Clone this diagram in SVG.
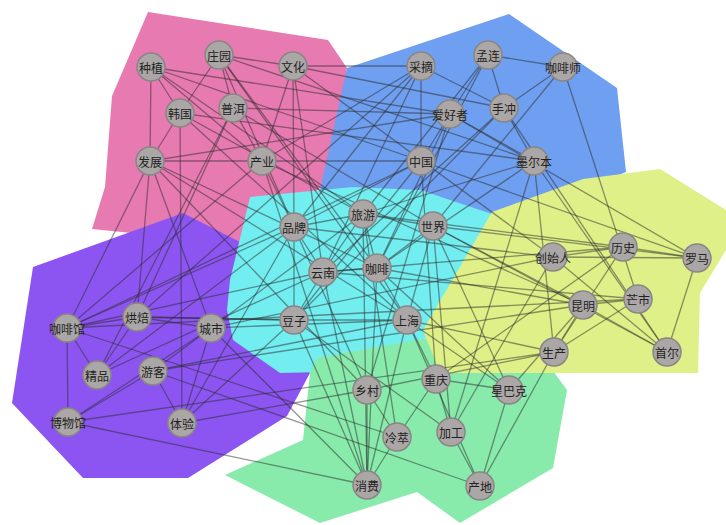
<svg xmlns="http://www.w3.org/2000/svg" width="726" height="525" viewBox="0 0 726 525">
<style>
.hull{stroke:none}
#edges line{stroke:#2b2b2b;stroke-opacity:0.5;stroke-width:1.3}
.node circle{fill:#aba7a6;stroke:#8a8684;stroke-width:1.5}
.node text{font-family:"Noto Sans CJK SC","Noto Sans",sans-serif;font-size:12px;fill:#222;text-anchor:middle;dominant-baseline:central}
</style>
<rect width="726" height="525" fill="#ffffff"/>
<g id="hulls">
<polygon class="hull" fill="#e87ab2" points="148,12 328,40 347,68 330,180 250,245 92,229 105,187 112,96"/>
<polygon class="hull" fill="#6f9ff0" points="347,68 509,14 617,88 626,172 560,200 490,215 420,190 320,190"/>
<polygon class="hull" fill="#8c55f2" points="183,213 240,242 262,300 310,373 287,416 188,478 83,478 12,403 33,267"/>
<polygon class="hull" fill="#72edf0" points="250,197 353,187 420,190 495,215 500,250 432,336 320,372 280,373 233,340 227,310 230,280"/>
<polygon class="hull" fill="#89ebab" points="310,373 317,358 433,337 545,360 567,390 553,468 460,523 417,492 320,523 225,475 303,440"/>
<polygon class="hull" fill="#def087" points="492,212 583,179 660,169 726,210 726,250 700,293 698,373 440,373 423,330"/>
</g>
<g id="edges">
<line x1="151" y1="67" x2="150" y2="161"/>
<line x1="151" y1="67" x2="180" y2="113"/>
<line x1="151" y1="67" x2="262" y2="161"/>
<line x1="219" y1="55" x2="293" y2="66"/>
<line x1="219" y1="55" x2="180" y2="113"/>
<line x1="219" y1="55" x2="233" y2="108"/>
<line x1="180" y1="113" x2="150" y2="161"/>
<line x1="150" y1="161" x2="262" y2="161"/>
<line x1="233" y1="108" x2="262" y2="161"/>
<line x1="293" y1="66" x2="262" y2="161"/>
<line x1="151" y1="67" x2="421" y2="161"/>
<line x1="151" y1="67" x2="363" y2="214"/>
<line x1="151" y1="67" x2="450" y2="114"/>
<line x1="150" y1="161" x2="67" y2="328"/>
<line x1="219" y1="55" x2="294" y2="227"/>
<line x1="219" y1="55" x2="377" y2="268"/>
<line x1="219" y1="55" x2="407" y2="320"/>
<line x1="219" y1="55" x2="534" y2="161"/>
<line x1="293" y1="66" x2="421" y2="66"/>
<line x1="293" y1="66" x2="294" y2="227"/>
<line x1="293" y1="66" x2="323" y2="272"/>
<line x1="293" y1="66" x2="553" y2="257"/>
<line x1="293" y1="66" x2="504" y2="108"/>
<line x1="180" y1="113" x2="182" y2="423"/>
<line x1="180" y1="113" x2="534" y2="161"/>
<line x1="180" y1="113" x2="363" y2="214"/>
<line x1="180" y1="113" x2="407" y2="320"/>
<line x1="233" y1="108" x2="137" y2="317"/>
<line x1="233" y1="108" x2="450" y2="114"/>
<line x1="233" y1="108" x2="433" y2="226"/>
<line x1="233" y1="108" x2="97" y2="375"/>
<line x1="150" y1="161" x2="450" y2="114"/>
<line x1="262" y1="161" x2="421" y2="161"/>
<line x1="150" y1="161" x2="377" y2="268"/>
<line x1="150" y1="161" x2="211" y2="328"/>
<line x1="150" y1="161" x2="367" y2="390"/>
<line x1="150" y1="161" x2="137" y2="317"/>
<line x1="150" y1="161" x2="407" y2="320"/>
<line x1="262" y1="161" x2="67" y2="328"/>
<line x1="262" y1="161" x2="294" y2="227"/>
<line x1="262" y1="161" x2="421" y2="66"/>
<line x1="262" y1="161" x2="367" y2="485"/>
<line x1="262" y1="161" x2="583" y2="305"/>
<line x1="421" y1="66" x2="421" y2="161"/>
<line x1="421" y1="66" x2="504" y2="108"/>
<line x1="488" y1="55" x2="563" y2="67"/>
<line x1="488" y1="55" x2="450" y2="114"/>
<line x1="488" y1="55" x2="504" y2="108"/>
<line x1="563" y1="67" x2="504" y2="108"/>
<line x1="450" y1="114" x2="534" y2="161"/>
<line x1="504" y1="108" x2="534" y2="161"/>
<line x1="450" y1="114" x2="421" y2="161"/>
<line x1="421" y1="66" x2="294" y2="227"/>
<line x1="421" y1="66" x2="323" y2="272"/>
<line x1="421" y1="66" x2="137" y2="317"/>
<line x1="488" y1="55" x2="377" y2="268"/>
<line x1="488" y1="55" x2="363" y2="214"/>
<line x1="563" y1="67" x2="638" y2="299"/>
<line x1="563" y1="67" x2="433" y2="226"/>
<line x1="450" y1="114" x2="377" y2="268"/>
<line x1="450" y1="114" x2="367" y2="390"/>
<line x1="450" y1="114" x2="697" y2="258"/>
<line x1="504" y1="108" x2="294" y2="320"/>
<line x1="504" y1="108" x2="667" y2="352"/>
<line x1="504" y1="108" x2="323" y2="272"/>
<line x1="421" y1="161" x2="697" y2="258"/>
<line x1="421" y1="161" x2="294" y2="227"/>
<line x1="421" y1="161" x2="294" y2="320"/>
<line x1="421" y1="161" x2="436" y2="379"/>
<line x1="421" y1="161" x2="67" y2="328"/>
<line x1="534" y1="161" x2="667" y2="352"/>
<line x1="534" y1="161" x2="377" y2="268"/>
<line x1="534" y1="161" x2="554" y2="352"/>
<line x1="534" y1="161" x2="451" y2="432"/>
<line x1="534" y1="161" x2="363" y2="214"/>
<line x1="294" y1="227" x2="363" y2="214"/>
<line x1="294" y1="227" x2="323" y2="272"/>
<line x1="294" y1="227" x2="294" y2="320"/>
<line x1="363" y1="214" x2="377" y2="268"/>
<line x1="363" y1="214" x2="323" y2="272"/>
<line x1="433" y1="226" x2="377" y2="268"/>
<line x1="323" y1="272" x2="377" y2="268"/>
<line x1="323" y1="272" x2="294" y2="320"/>
<line x1="377" y1="268" x2="407" y2="320"/>
<line x1="294" y1="320" x2="407" y2="320"/>
<line x1="363" y1="214" x2="433" y2="226"/>
<line x1="433" y1="226" x2="407" y2="320"/>
<line x1="294" y1="227" x2="67" y2="328"/>
<line x1="294" y1="227" x2="182" y2="423"/>
<line x1="294" y1="227" x2="97" y2="375"/>
<line x1="294" y1="227" x2="553" y2="257"/>
<line x1="363" y1="214" x2="397" y2="437"/>
<line x1="363" y1="214" x2="623" y2="247"/>
<line x1="363" y1="214" x2="367" y2="485"/>
<line x1="433" y1="226" x2="667" y2="352"/>
<line x1="433" y1="226" x2="583" y2="305"/>
<line x1="433" y1="226" x2="451" y2="432"/>
<line x1="323" y1="272" x2="367" y2="485"/>
<line x1="323" y1="272" x2="638" y2="299"/>
<line x1="323" y1="272" x2="67" y2="328"/>
<line x1="377" y1="268" x2="509" y2="390"/>
<line x1="377" y1="268" x2="583" y2="305"/>
<line x1="377" y1="268" x2="367" y2="485"/>
<line x1="294" y1="320" x2="367" y2="485"/>
<line x1="294" y1="320" x2="182" y2="423"/>
<line x1="294" y1="320" x2="137" y2="317"/>
<line x1="294" y1="320" x2="451" y2="432"/>
<line x1="407" y1="320" x2="509" y2="390"/>
<line x1="407" y1="320" x2="367" y2="485"/>
<line x1="407" y1="320" x2="554" y2="352"/>
<line x1="407" y1="320" x2="211" y2="328"/>
<line x1="407" y1="320" x2="436" y2="379"/>
<line x1="553" y1="257" x2="623" y2="247"/>
<line x1="553" y1="257" x2="697" y2="258"/>
<line x1="623" y1="247" x2="697" y2="258"/>
<line x1="697" y1="258" x2="667" y2="352"/>
<line x1="583" y1="305" x2="638" y2="299"/>
<line x1="583" y1="305" x2="667" y2="352"/>
<line x1="583" y1="305" x2="554" y2="352"/>
<line x1="638" y1="299" x2="554" y2="352"/>
<line x1="623" y1="247" x2="554" y2="352"/>
<line x1="553" y1="257" x2="667" y2="352"/>
<line x1="553" y1="257" x2="451" y2="432"/>
<line x1="553" y1="257" x2="211" y2="328"/>
<line x1="623" y1="247" x2="323" y2="272"/>
<line x1="583" y1="305" x2="153" y2="371"/>
<line x1="638" y1="299" x2="67" y2="328"/>
<line x1="554" y1="352" x2="480" y2="486"/>
<line x1="554" y1="352" x2="367" y2="390"/>
<line x1="554" y1="352" x2="68" y2="422"/>
<line x1="697" y1="258" x2="433" y2="226"/>
<line x1="623" y1="247" x2="436" y2="379"/>
<line x1="67" y1="328" x2="137" y2="317"/>
<line x1="67" y1="328" x2="97" y2="375"/>
<line x1="137" y1="317" x2="211" y2="328"/>
<line x1="137" y1="317" x2="97" y2="375"/>
<line x1="211" y1="328" x2="182" y2="423"/>
<line x1="153" y1="371" x2="182" y2="423"/>
<line x1="68" y1="422" x2="153" y2="371"/>
<line x1="68" y1="422" x2="211" y2="328"/>
<line x1="153" y1="371" x2="211" y2="328"/>
<line x1="67" y1="328" x2="68" y2="422"/>
<line x1="137" y1="317" x2="294" y2="320"/>
<line x1="67" y1="328" x2="397" y2="437"/>
<line x1="68" y1="422" x2="367" y2="485"/>
<line x1="153" y1="371" x2="480" y2="486"/>
<line x1="211" y1="328" x2="367" y2="485"/>
<line x1="182" y1="423" x2="367" y2="390"/>
<line x1="97" y1="375" x2="323" y2="272"/>
<line x1="153" y1="371" x2="407" y2="320"/>
<line x1="211" y1="328" x2="363" y2="214"/>
<line x1="367" y1="390" x2="367" y2="485"/>
<line x1="367" y1="390" x2="397" y2="437"/>
<line x1="436" y1="379" x2="397" y2="437"/>
<line x1="436" y1="379" x2="451" y2="432"/>
<line x1="451" y1="432" x2="480" y2="486"/>
<line x1="509" y1="390" x2="480" y2="486"/>
<line x1="436" y1="379" x2="509" y2="390"/>
<line x1="397" y1="437" x2="367" y2="485"/>
<line x1="509" y1="390" x2="433" y2="226"/>
<line x1="583" y1="305" x2="509" y2="390"/>
<line x1="480" y1="486" x2="407" y2="320"/>
<line x1="367" y1="390" x2="294" y2="227"/>
</g>
<g id="nodes">
<g class="node" id="n-zhongzhi"><circle cx="151" cy="67" r="14"/><text x="151" y="67">种植</text></g>
<g class="node" id="n-zhuangyuan"><circle cx="219" cy="55" r="14"/><text x="219" y="55">庄园</text></g>
<g class="node" id="n-wenhua"><circle cx="293" cy="66" r="14"/><text x="293" y="66">文化</text></g>
<g class="node" id="n-hanguo"><circle cx="180" cy="113" r="14"/><text x="180" y="113">韩国</text></g>
<g class="node" id="n-puer"><circle cx="233" cy="108" r="14"/><text x="233" y="108">普洱</text></g>
<g class="node" id="n-fazhan"><circle cx="150" cy="161" r="14"/><text x="150" y="161">发展</text></g>
<g class="node" id="n-chanye"><circle cx="262" cy="161" r="14"/><text x="262" y="161">产业</text></g>
<g class="node" id="n-caizhai"><circle cx="421" cy="66" r="14"/><text x="421" y="66">采摘</text></g>
<g class="node" id="n-menglian"><circle cx="488" cy="55" r="14"/><text x="488" y="55">孟连</text></g>
<g class="node" id="n-kafeishi"><circle cx="563" cy="67" r="14"/><text x="563" y="67">咖啡师</text></g>
<g class="node" id="n-aihaozhe"><circle cx="450" cy="114" r="14"/><text x="450" y="114">爱好者</text></g>
<g class="node" id="n-shouchong"><circle cx="504" cy="108" r="14"/><text x="504" y="108">手冲</text></g>
<g class="node" id="n-zhongguo"><circle cx="421" cy="161" r="14"/><text x="421" y="161">中国</text></g>
<g class="node" id="n-moerben"><circle cx="534" cy="161" r="14"/><text x="534" y="161">墨尔本</text></g>
<g class="node" id="n-pinpai"><circle cx="294" cy="227" r="14"/><text x="294" y="227">品牌</text></g>
<g class="node" id="n-lvyou"><circle cx="363" cy="214" r="14"/><text x="363" y="214">旅游</text></g>
<g class="node" id="n-shijie"><circle cx="433" cy="226" r="14"/><text x="433" y="226">世界</text></g>
<g class="node" id="n-yunnan"><circle cx="323" cy="272" r="14"/><text x="323" y="272">云南</text></g>
<g class="node" id="n-kafei"><circle cx="377" cy="268" r="14"/><text x="377" y="268">咖啡</text></g>
<g class="node" id="n-douzi"><circle cx="294" cy="320" r="14"/><text x="294" y="320">豆子</text></g>
<g class="node" id="n-shanghai"><circle cx="407" cy="320" r="14"/><text x="407" y="320">上海</text></g>
<g class="node" id="n-chuangshiren"><circle cx="553" cy="257" r="14"/><text x="553" y="257">创始人</text></g>
<g class="node" id="n-lishi"><circle cx="623" cy="247" r="14"/><text x="623" y="247">历史</text></g>
<g class="node" id="n-luoma"><circle cx="697" cy="258" r="14"/><text x="697" y="258">罗马</text></g>
<g class="node" id="n-kunming"><circle cx="583" cy="305" r="14"/><text x="583" y="305">昆明</text></g>
<g class="node" id="n-mangshi"><circle cx="638" cy="299" r="14"/><text x="638" y="299">芒市</text></g>
<g class="node" id="n-shengchan"><circle cx="554" cy="352" r="14"/><text x="554" y="352">生产</text></g>
<g class="node" id="n-shouer"><circle cx="667" cy="352" r="14"/><text x="667" y="352">首尔</text></g>
<g class="node" id="n-kafeiguan"><circle cx="67" cy="328" r="14"/><text x="67" y="328">咖啡馆</text></g>
<g class="node" id="n-hongbei"><circle cx="137" cy="317" r="14"/><text x="137" y="317">烘焙</text></g>
<g class="node" id="n-chengshi"><circle cx="211" cy="328" r="14"/><text x="211" y="328">城市</text></g>
<g class="node" id="n-jingpin"><circle cx="97" cy="375" r="14"/><text x="97" y="375">精品</text></g>
<g class="node" id="n-youke"><circle cx="153" cy="371" r="14"/><text x="153" y="371">游客</text></g>
<g class="node" id="n-bowuguan"><circle cx="68" cy="422" r="14"/><text x="68" y="422">博物馆</text></g>
<g class="node" id="n-tiyan"><circle cx="182" cy="423" r="14"/><text x="182" y="423">体验</text></g>
<g class="node" id="n-xiangcun"><circle cx="367" cy="390" r="14"/><text x="367" y="390">乡村</text></g>
<g class="node" id="n-chongqing"><circle cx="436" cy="379" r="14"/><text x="436" y="379">重庆</text></g>
<g class="node" id="n-xingbake"><circle cx="509" cy="390" r="14"/><text x="509" y="390">星巴克</text></g>
<g class="node" id="n-lengcui"><circle cx="397" cy="437" r="14"/><text x="397" y="437">冷萃</text></g>
<g class="node" id="n-jiagong"><circle cx="451" cy="432" r="14"/><text x="451" y="432">加工</text></g>
<g class="node" id="n-xiaofei"><circle cx="367" cy="485" r="14"/><text x="367" y="485">消费</text></g>
<g class="node" id="n-chandi"><circle cx="480" cy="486" r="14"/><text x="480" y="486">产地</text></g>
</g>
</svg>
